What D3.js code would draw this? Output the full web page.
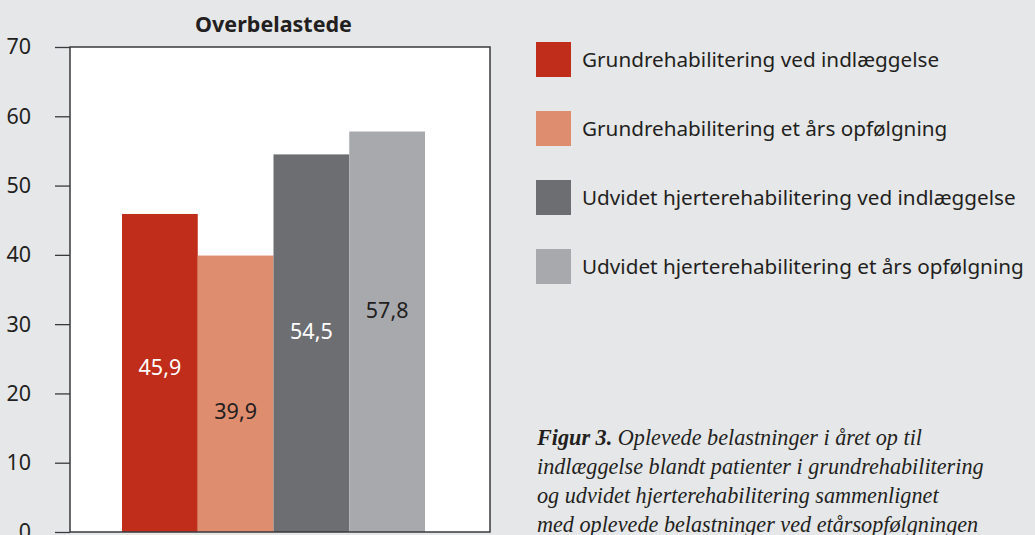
<!DOCTYPE html>
<html>
<head>
<meta charset="utf-8">
<script src="https://cdn.jsdelivr.net/npm/d3@7"></script>
<style>
  body { margin: 0; background: #e6e7e9; }
  svg { display: block; }
</style>
</head>
<body>
<div id="chart"></div>
<script>
// data
const categories = ["Overbelastede"];
const series = [
  "Grundrehabilitering ved indlæggelse",
  "Grundrehabilitering et års opfølgning",
  "Udvidet hjerterehabilitering ved indlæggelse",
  "Udvidet hjerterehabilitering et års opfølgning"
];
const values = [45.9, 39.9, 54.5, 57.8];
const valueLabels = ["45,9", "39,9", "54,5", "57,8"];
const yTicks = [0, 10, 20, 30, 40, 50, 60, 70];
const captionLines = [
  ["Figur 3.", " Oplevede belastninger i året op til"],
  ["", "indlæggelse blandt patienter i grundrehabilitering"],
  ["", "og udvidet hjerterehabilitering sammenlignet"],
  ["", "med oplevede belastninger ved etårsopfølgningen"]
];

const colors = ["#c02d1a", "#df8d6f", "#6d6e72", "#a8a9ad"];
const labelColors = ["#ffffff", "#231f20", "#ffffff", "#231f20"];
// where each value label sits, in axis units
const labelAt = [23.8, 17.4, 28.9, 32.0];

const width = 1035;
const height = 535;
const plot = { left: 70, top: 47, width: 420, height: 485 };
const sans = "'Noto Sans', 'Open Sans', sans-serif";
const ink = "#231f20";

const svg = d3.select("#chart")
  .append("svg")
  .attr("width", width)
  .attr("height", height);

svg.append("rect")
  .attr("width", width)
  .attr("height", height)
  .attr("fill", "#e6e7e9");

const g = svg.append("g")
  .attr("transform", `translate(${plot.left},${plot.top})`);

const yScale = d3.scaleLinear()
  .domain([0, 70])
  .range([plot.height, 0]);

const x0 = d3.scaleBand()
  .domain(categories)
  .range([52, 355]);

const x1 = d3.scaleBand()
  .domain(series)
  .range([0, x0.bandwidth()]);

// white plot area
g.append("rect")
  .attr("width", plot.width)
  .attr("height", plot.height)
  .attr("fill", "#ffffff");

// bars
const group = g.selectAll(".group")
  .data(categories)
  .enter()
  .append("g")
  .attr("transform", d => `translate(${x0(d)},0)`);

group.selectAll("rect")
  .data(series.map((s, i) => ({ s, v: values[i], i })))
  .enter()
  .append("rect")
  .attr("x", d => x1(d.s))
  .attr("y", d => yScale(d.v))
  .attr("width", x1.bandwidth())
  .attr("height", d => yScale(0) - yScale(d.v))
  .attr("fill", d => colors[d.i]);

group.selectAll("text")
  .data(series.map((s, i) => ({ s, i })))
  .enter()
  .append("text")
  .attr("x", d => x1(d.s) + x1.bandwidth() / 2)
  .attr("y", d => yScale(labelAt[d.i]))
  .attr("dy", "0.35em")
  .attr("text-anchor", "middle")
  .attr("font-family", sans)
  .attr("font-size", 21.5)
  .attr("fill", d => labelColors[d.i])
  .text(d => valueLabels[d.i]);

// frame
g.append("rect")
  .attr("width", plot.width)
  .attr("height", plot.height)
  .attr("fill", "none")
  .attr("stroke", "#3a3a3c")
  .attr("stroke-width", 1.5);

// y axis
const yAxis = g.append("g")
  .call(d3.axisLeft(yScale)
    .tickValues(yTicks)
    .tickSize(15)
    .tickPadding(24)
    .tickFormat(d3.format("d")));

yAxis.select(".domain").remove();
yAxis.selectAll("line")
  .attr("stroke", "#3a3a3c")
  .attr("stroke-width", 1.3);
yAxis.selectAll("text")
  .attr("font-family", sans)
  .attr("font-size", 21.5)
  .attr("fill", ink);

// title
svg.append("text")
  .attr("x", plot.left + x0(categories[0]) + x0.bandwidth() / 2)
  .attr("y", 32)
  .attr("text-anchor", "middle")
  .attr("font-family", sans)
  .attr("font-weight", "bold")
  .attr("font-size", 21.5)
  .attr("fill", ink)
  .text(categories[0]);

// legend
const legend = svg.selectAll(".legend")
  .data(series)
  .enter()
  .append("g")
  .attr("transform", (d, i) => `translate(536,${42 + i * 69})`);

legend.append("rect")
  .attr("width", 35)
  .attr("height", 35)
  .attr("fill", (d, i) => colors[i]);

legend.append("text")
  .attr("x", 46)
  .attr("y", 17.5)
  .attr("dy", "0.35em")
  .attr("font-family", sans)
  .attr("font-size", 20.7)
  .attr("fill", ink)
  .text(d => d);

// caption
const caption = svg.append("text")
  .attr("font-family", "'Liberation Serif', 'DejaVu Serif', serif")
  .attr("font-style", "italic")
  .attr("font-size", 22.2)
  .attr("fill", ink);

captionLines.forEach((line, i) => {
  const t = caption.append("tspan")
    .attr("x", 537)
    .attr("y", 445 + i * 29);
  if (line[0]) {
    t.append("tspan").attr("font-weight", "bold").text(line[0]);
  }
  t.append("tspan").text(line[1]);
});
</script>
</body>
</html>
